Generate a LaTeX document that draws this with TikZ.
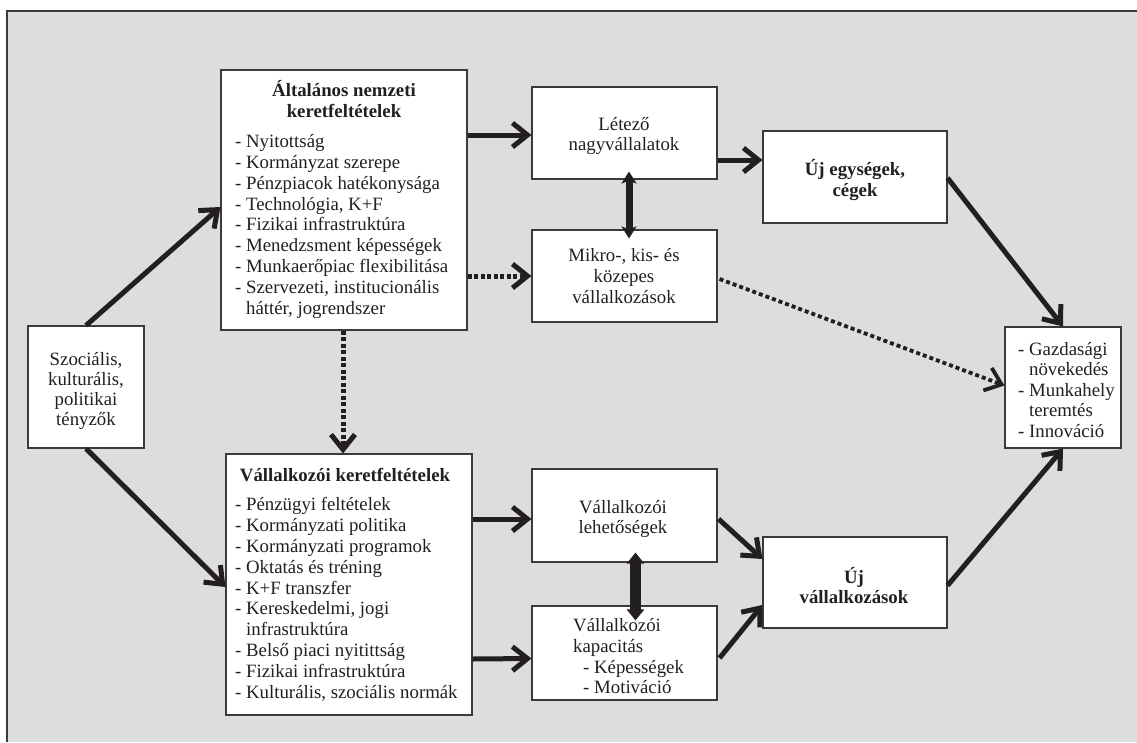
\documentclass[tikz,border=0pt]{standalone}
\usepackage{fontspec}
\setmainfont{Liberation Serif}
\usetikzlibrary{arrows.meta,calc}
\definecolor{panel}{HTML}{DDDDDD}
\definecolor{ink}{HTML}{231F20}
\definecolor{frame}{HTML}{3A3A3A}
\begin{document}
\begin{tikzpicture}[x=1pt,y=-1pt,
  box/.style={draw=frame,line width=1.1pt,fill=white,inner sep=0pt,rectangle},
  txt/.style={inner sep=0pt,text=ink,font=\fontsize{18.8}{20.8}\selectfont},
  btxt/.style={txt,font=\fontsize{18.8}{20.8}\selectfont\bfseries},
  flow/.style={draw=ink,line width=5pt,-{Straight Barb[length=15pt,width=24pt]}},
  dotflow/.style={flow,line width=5pt,dash pattern=on 4pt off 2.5pt},
  thindot/.style={flow,line width=3.8pt,dash pattern=on 4pt off 3pt},
  link/.style={draw=ink,line width=7pt,{Stealth[length=12pt,width=15pt,inset=3pt]}-{Stealth[length=12pt,width=15pt,inset=3pt]}},
  widelink/.style={draw=ink,line width=11pt,{Triangle[length=11pt,width=17pt]}-{Triangle[length=11pt,width=17pt]}}
]
\useasboundingbox (0,0) rectangle (1137,742);
% panel
\fill[panel] (7,11) rectangle (1137,742);
\draw[frame,line width=1.5pt] (7,742) -- (7,11) -- (1137,11);

% boxes
\node[box,minimum width=246pt,minimum height=260pt] (A) at (344,200) {};
\node[box,minimum width=185pt,minimum height=92pt] (L) at (624.5,133) {};
\node[box,minimum width=185pt,minimum height=92pt] (M) at (624.5,276) {};
\node[box,minimum width=184pt,minimum height=92pt] (U) at (855,177) {};
\node[box,minimum width=116pt,minimum height=121pt] (O) at (1063,387.5) {};
\node[box,minimum width=116pt,minimum height=122pt] (S) at (86,387) {};
\node[box,minimum width=246pt,minimum height=261pt] (B) at (349,584.5) {};
\node[box,minimum width=185pt,minimum height=93pt] (P) at (624.5,515.5) {};
\node[box,minimum width=185pt,minimum height=94pt] (K) at (624.5,653) {};
\node[box,minimum width=184pt,minimum height=91pt] (N) at (855,582.5) {};

% general national conditions
\node[btxt,anchor=base] (At1) at (344,96.7) {Általános nemzeti};
\node[btxt,anchor=base] (At2) at (344,117.3) {keretfeltételek};
\foreach \s [count=\i from 0] in {{- Nyitottság},{- Kormányzat szerepe},
  {- Pénzpiacok hatékonysága},{- Technológia, K+F},{- Fizikai infrastruktúra},
  {- Menedzsment képességek},{- Munkaerőpiac flexibilitása},
  {- Szervezeti, institucionális},{\phantom{- }háttér, jogrendszer}}
  \node[txt,anchor=base west] (A\i) at (235,147.3+20.9*\i) {\s};

% entrepreneurial conditions
\node[btxt,anchor=base] (Bt) at (345,481.7) {Vállalkozói keretfeltételek};
\foreach \s [count=\i from 0] in {{- Pénzügyi feltételek},{- Kormányzati politika},
  {- Kormányzati programok},{- Oktatás és tréning},{- K+F transzfer},
  {- Kereskedelmi, jogi},{\phantom{- }infrastruktúra},{- Belső piaci nyitittság},
  {- Fizikai infrastruktúra},{- Kulturális, szociális normák}}
  \node[txt,anchor=base west] (B\i) at (235,510.7+20.85*\i) {\s};

% social factors
\foreach \s [count=\i from 0] in {{Szociális,},{kulturális,},{politikai},{tényzők}}
  \node[txt,anchor=base] (S\i) at (86,365+20*\i) {\s};

% existing large firms
\node[txt,anchor=base] (L0) at (624,130) {Létező};
\node[txt,anchor=base] (L1) at (624,150.7) {nagyvállalatok};

% SMEs
\node[txt,anchor=base] (M0) at (624,261.7) {Mikro-, kis- és};
\node[txt,anchor=base] (M1) at (624,282.3) {közepes};
\node[txt,anchor=base] (M2) at (624,303.3) {vállalkozások};

% new units
\node[btxt,anchor=base] (U0) at (855,175) {Új egységek,};
\node[btxt,anchor=base] (U1) at (855,196.7) {cégek};

% outcomes
\node[txt,anchor=base west] (O0) at (1018,355) {- Gazdasági};
\node[txt,anchor=base west] (O1) at (1018,375.5) {\phantom{- }növekedés};
\node[txt,anchor=base west] (O2) at (1018,396) {- Munkahely};
\node[txt,anchor=base west] (O3) at (1018,416.5) {\phantom{- }teremtés};
\node[txt,anchor=base west] (O4) at (1018,437) {- Innováció};

% opportunities
\node[txt,anchor=base] (P0) at (623,513.3) {Vállalkozói};
\node[txt,anchor=base] (P1) at (623,533.3) {lehetőségek};

% capacity
\node[txt,anchor=base west] (K0) at (573,631.7) {Vállalkozói};
\node[txt,anchor=base west] (K1) at (573,652.2) {kapacitás};
\node[txt,anchor=base west] (K2) at (583,673) {- Képességek};
\node[txt,anchor=base west] (K3) at (583,693.5) {- Motiváció};

% new ventures
\node[btxt,anchor=base] (N0) at (854,583.3) {Új};
\node[btxt,anchor=base] (N1) at (854,603.8) {vállalkozások};

% connectors
\draw[flow] (S.north) -- ($(A.west)+(0,7)$);
\draw[flow] (S.south) -- ($(B.west)+(0,2.5)$);
\draw[flow] ($(A.east)+(0,-65)$) -- ($(L.west)+(0,2)$);
\draw[dotflow] (A.east |- M.west) -- (M.west);
\draw[dotflow] ($(A.south)+(-1,0)$) -- ($(A.south |- B.north)+(-1,0)$);
\draw[flow] ($(L.east)+(0,27)$) -- ($(U.west)+(0,-17)$);
\draw[link] ($(L.south)+(4.5,-8)$) -- ($(M.north)+(4.5,9)$);
\draw[thindot] ($(M.east)+(2,3)$) -- ($(O.west)+(0,-2)$);
\draw[flow] ($(U.east)+(0,1)$) -- (O.north);
\draw[flow] ($(B.east)+(0,-65.5)$) -- ($(P.west)+(0,3.5)$);
\draw[flow] ($(B.east)+(0,74.5)$) -- ($(K.west)+(0,5.5)$);
\draw[widelink] ($(P.south)+(11,-10)$) -- ($(K.north)+(11,15)$);
\draw[flow] ($(P.east)+(1,3.5)$) -- ($(N.west)+(0,-23.5)$);
\draw[flow] ($(K.east)+(2,5)$) -- ($(N.west)+(0,22.5)$);
\draw[flow] ($(N.east)+(0,3)$) -- (O.south);
\end{tikzpicture}
\end{document}
